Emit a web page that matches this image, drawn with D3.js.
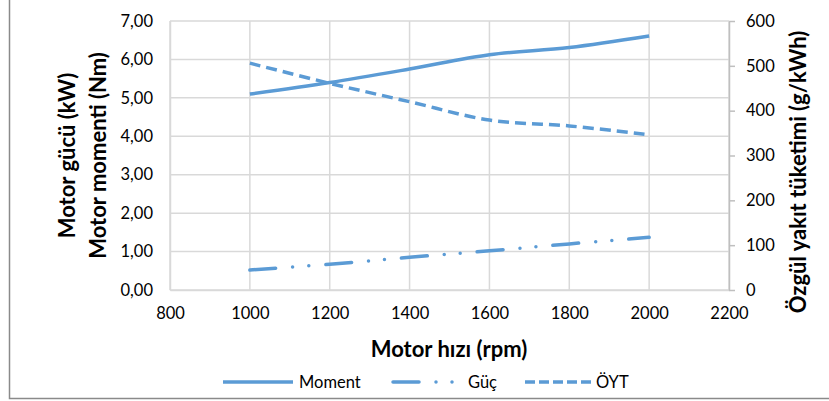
<!DOCTYPE html>
<html>
<head>
<meta charset="utf-8">
<script src="https://cdn.jsdelivr.net/npm/d3@7"></script>
<style>
  body { margin: 0; background: #fff; }
  svg text { font-family: Lato, "Open Sans", sans-serif; fill: #000; }
</style>
</head>
<body>
<svg id="chart" width="829" height="401"></svg>
<script>
// Motor data
const rpm = [1000, 1200, 1400, 1600, 1800, 2000];
const moment = [5.10, 5.40, 5.75, 6.12, 6.31, 6.61];
const guc = [0.52, 0.67, 0.85, 1.02, 1.20, 1.37];
const oyt = [506, 461, 420, 379, 366, 346];

const xTicks = [800, 1000, 1200, 1400, 1600, 1800, 2000, 2200];
const leftTicks = [0, 1, 2, 3, 4, 5, 6, 7];
const rightTicks = [0, 100, 200, 300, 400, 500, 600];

const color = "#5B9BD5";
const svg = d3.select("#chart");

// outer chart border (only left and bottom edges show in the frame)
svg.append("rect")
  .attr("x", 9.5).attr("y", -5)
  .attr("width", 830).attr("height", 403.5)
  .attr("fill", "none").attr("stroke", "#8a8a8a").attr("stroke-width", 1.5);

const plotLeft = 170, plotRight = 729, plotTop = 21, plotBottom = 290;

const x = d3.scaleLinear().domain([800, 2200]).range([plotLeft, plotRight]);
const yL = d3.scaleLinear().domain([0, 7]).range([plotBottom, plotTop]);
const yR = d3.scaleLinear().domain([0, 600]).range([plotBottom, plotTop]);

// gridlines
svg.append("g")
  .selectAll("line")
  .data(leftTicks)
  .join("line")
  .attr("x1", plotLeft).attr("x2", plotRight)
  .attr("y1", (d) => yL(d)).attr("y2", (d) => yL(d))
  .attr("stroke", "#d9d9d9").attr("stroke-width", 1.5);

svg.append("g")
  .selectAll("line")
  .data(xTicks)
  .join("line")
  .attr("x1", (d) => x(d)).attr("x2", (d) => x(d))
  .attr("y1", plotTop).attr("y2", plotBottom)
  .attr("stroke", "#d9d9d9").attr("stroke-width", 1.5);

const tickFont = 16.5;

// left axis (labels only)
const fmt = (d) => d3.format(".2f")(d).replace(".", ",");
svg.append("g")
  .attr("transform", `translate(${plotLeft},0)`)
  .call(d3.axisLeft(yL).tickValues(leftTicks).tickFormat(fmt).tickSize(0).tickPadding(17))
  .call((g) => g.select(".domain").attr("stroke", "#d9d9d9").attr("stroke-width", 1.5))
  .call((g) => g.selectAll("text").attr("font-size", tickFont));

// bottom axis
svg.append("g")
  .attr("transform", `translate(0,${plotBottom})`)
  .call(d3.axisBottom(x).tickValues(xTicks).tickFormat(d3.format("d")).tickSize(0).tickPadding(17))
  .call((g) => g.select(".domain").attr("stroke", "#d9d9d9").attr("stroke-width", 1.5))
  .call((g) => g.selectAll("text").attr("font-size", tickFont));

// right axis
svg.append("g")
  .attr("transform", `translate(${plotRight},0)`)
  .call(d3.axisRight(yR).tickValues(rightTicks).tickSize(6).tickSizeOuter(0).tickPadding(11))
  .call((g) => g.select(".domain").attr("stroke", "#bfbfbf").attr("stroke-width", 1.5))
  .call((g) => g.selectAll(".tick line").attr("stroke", "#bfbfbf").attr("stroke-width", 1.5))
  .call((g) => g.selectAll("text").attr("font-size", tickFont));

// series
const series = [
  { name: "Moment", values: moment, y: yL, dash: null },
  { name: "Güç", values: guc, y: yL, dash: "26,17,0,16,0,17", cap: "round" },
  { name: "ÖYT", values: oyt, y: yR, dash: "11,6" },
];

series.forEach((s) => {
  const line = d3.line()
    .x((d, i) => x(rpm[i]))
    .y((d) => s.y(d))
    .curve(d3.curveCatmullRom.alpha(0.5));
  svg.append("path")
    .datum(s.values)
    .attr("d", line)
    .attr("fill", "none")
    .attr("stroke", color)
    .attr("stroke-width", 3.5)
    .attr("stroke-linecap", s.cap || "butt")
    .attr("stroke-dasharray", s.dash);
});

// axis titles
const titleFont = 22;
svg.append("text")
  .attr("x", 449).attr("y", 357)
  .attr("text-anchor", "middle")
  .attr("font-size", titleFont).attr("font-weight", "bold")
  .text("Motor hızı (rpm)");

const midY = (plotTop + plotBottom) / 2;
svg.append("text")
  .attr("transform", `translate(75,${midY}) rotate(-90)`)
  .attr("text-anchor", "middle")
  .attr("font-size", titleFont).attr("font-weight", "bold")
  .text("Motor gücü (kW)");
svg.append("text")
  .attr("transform", `translate(106,${midY}) rotate(-90)`)
  .attr("text-anchor", "middle")
  .attr("font-size", titleFont).attr("font-weight", "bold")
  .text("Motor momenti (Nm)");
svg.append("text")
  .attr("transform", `translate(806,172) rotate(-90)`)
  .attr("text-anchor", "middle")
  .attr("font-size", titleFont).attr("font-weight", "bold")
  .text("Özgül yakıt tüketimi (g/kWh)");

// legend
const legendX = [223, 393, 525];
const legendLen = [70, 62, 68];
const legendText = [76, 75, 71];
const legend = svg.append("g");
series.forEach((s, i) => {
  const g = legend.append("g").attr("transform", `translate(${legendX[i]},382)`);
  g.append("line")
    .attr("x1", 0).attr("x2", legendLen[i])
    .attr("stroke", color).attr("stroke-width", 3.5)
    .attr("stroke-linecap", s.cap || "butt")
    .attr("stroke-dasharray", s.dash === "11,6" ? "10,4" : s.dash);
  g.append("text")
    .attr("x", legendText[i]).attr("y", 6)
    .attr("font-size", tickFont)
    .text(s.name);
});
</script>
</body>
</html>
